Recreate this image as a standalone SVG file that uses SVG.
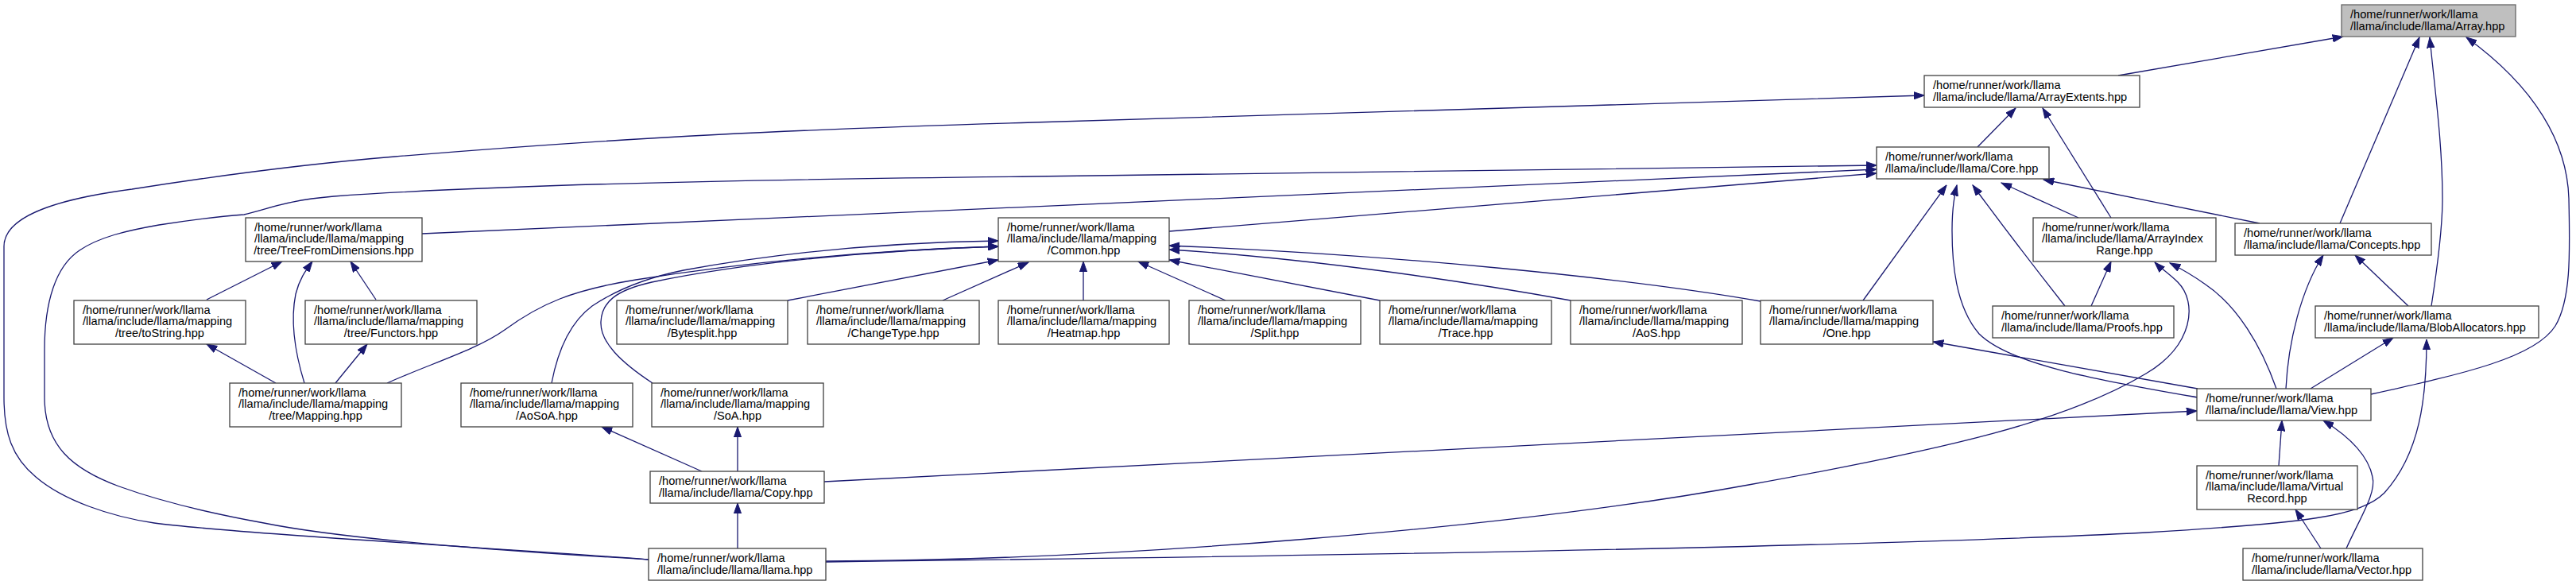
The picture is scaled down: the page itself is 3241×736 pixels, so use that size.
<svg xmlns="http://www.w3.org/2000/svg" width="3241" height="736" viewBox="0 0 3241 736">
<style>
.n rect{fill:#ffffff;stroke:#404040;stroke-width:1.3}
.root rect{fill:#bfbfbf;stroke:#666666;stroke-width:1.3}
text{font-family:"Liberation Sans",Arial,sans-serif;font-size:14.6px;fill:#000000}
.c{text-anchor:middle}
#edges path{fill:none;stroke:#191970;stroke-width:1.3;marker-end:url(#ah)}
</style>
<defs>
<marker id="ah" markerUnits="userSpaceOnUse" markerWidth="14" markerHeight="10" refX="13.3" refY="5" orient="auto" viewBox="0 0 14 10">
<path d="M0,0.3 L13.3,5 L0,9.7 z" fill="#191970" stroke="#191970" stroke-width="1"/>
</marker>
</defs>
<rect width="3241" height="736" fill="#ffffff"/>
<g id="edges">
<path d="M2665,95 L2948,46"/>
<path d="M2944,281 L3044,47"/>
<path d="M3059,385 C3066,340 3073,290 3073,250 C3073,180 3063,110 3057,47"/>
<path d="M2983,496 C3100,470 3190,450 3215,410 C3236,375 3233,310 3232,250 C3230,180 3190,110 3103,47"/>
<path d="M2488,185 L2536,136"/>
<path d="M2656,274 L2570,136"/>
<path d="M816,704 C700,694 300,672 194,658 C140,650 80,630 45,600 C15,575 5,545 5,500 L5,310 C5,275 60,252 166,238 C280,220 400,205 497,197 C800,172 1000,163 1300,154 C1800,140 2200,124 2421,120"/>
<path d="M816,704 C700,697 450,682 332,658 C260,645 200,630 150,612 C90,590 56,560 56,500 L56,440 C56,380 70,335 100,315 C125,298 160,290 200,283 C250,275 280,272 307,270 C340,262 360,252 420,247 C600,234 900,226 1300,222 C1800,215 2100,210 2361,208"/>
<path d="M531,294 L2361,213"/>
<path d="M1471,291 L2361,218"/>
<path d="M2615,274 L2518,230"/>
<path d="M2843,281 L2571,226"/>
<path d="M2598,385 Q2535,305 2482,233"/>
<path d="M2765,500 C2650,480 2530,460 2490,420 C2460,385 2456,330 2456,290 C2456,265 2459,245 2462,233"/>
<path d="M2344,378 L2449,233"/>
<path d="M260,377 L355,329"/>
<path d="M383,482 C370,440 366,400 372,370 C377,350 385,340 393,329"/>
<path d="M473,377 L441,329"/>
<path d="M347,482 L260,433"/>
<path d="M422,482 L462,433"/>
<path d="M487,482 C540,458 600,440 635,415 C680,382 720,365 800,352 C950,328 1100,315 1256,310"/>
<path d="M694,482 C702,440 718,405 745,385 C775,365 810,350 860,340 C980,318 1120,305 1256,303"/>
<path d="M821,482 C780,455 755,430 756,405 C757,380 775,365 820,355 C940,330 1100,315 1256,310"/>
<path d="M991,378 L1256,327"/>
<path d="M1186,378 L1294,330"/>
<path d="M1363,378 L1363,329"/>
<path d="M1542,378 L1432,329"/>
<path d="M1736,378 L1471,327"/>
<path d="M1976,378 C1850,355 1650,325 1471,314"/>
<path d="M2215,379 C2050,350 1750,320 1471,309"/>
<path d="M2765,489 L2432,430"/>
<path d="M2864,489 C2845,435 2815,385 2775,358 C2757,345 2742,337 2730,331"/>
<path d="M1039,706 C1400,705 1900,665 2200,610 C2450,565 2600,530 2700,470 C2760,435 2765,380 2740,355 C2730,345 2718,337 2711,330"/>
<path d="M1039,707 C1600,700 2300,690 2700,670 C2900,658 2970,650 3000,620 C3045,570 3053,500 3053,427"/>
<path d="M1037,606 L2764,517"/>
<path d="M883,593 L757,537"/>
<path d="M928,593 L928,537"/>
<path d="M928,690 L928,633"/>
<path d="M2876,489 C2879,430 2895,365 2923,321"/>
<path d="M2907,489 L3011,425"/>
<path d="M3030,385 L2963,321"/>
<path d="M2867,586 L2871,529"/>
<path d="M2952,690 C2970,650 2990,620 2985,600 C2980,575 2960,552 2923,529"/>
<path d="M2920,690 L2888,641"/>
<path d="M2631,385 L2656,329"/>
</g>
<g id="node-array" class="root"><rect x="2946" y="6" width="219" height="40"/><text x="2957" y="23">/home/runner/work/llama</text><text x="2957" y="38">/llama/include/llama/Array.hpp</text></g>
<g id="node-arrayextents" class="n"><rect x="2421" y="95" width="271" height="40"/><text x="2432" y="112">/home/runner/work/llama</text><text x="2432" y="127">/llama/include/llama/ArrayExtents.hpp</text></g>
<g id="node-core" class="n"><rect x="2361" y="185" width="217" height="40"/><text x="2372" y="202">/home/runner/work/llama</text><text x="2372" y="217">/llama/include/llama/Core.hpp</text></g>
<g id="node-treefromdimensions" class="n"><rect x="309" y="274" width="222" height="55"/><text x="320" y="290.5">/home/runner/work/llama</text><text x="320" y="305">/llama/include/llama/mapping</text><text class="c" x="420" y="319.5">/tree/TreeFromDimensions.hpp</text></g>
<g id="node-common" class="n"><rect x="1256" y="274" width="215" height="55"/><text x="1267" y="290.5">/home/runner/work/llama</text><text x="1267" y="305">/llama/include/llama/mapping</text><text class="c" x="1363.5" y="319.5">/Common.hpp</text></g>
<g id="node-arrayindexrange" class="n"><rect x="2558" y="274" width="230" height="55"/><text x="2569" y="290.5">/home/runner/work/llama</text><text x="2569" y="305">/llama/include/llama/ArrayIndex</text><text class="c" x="2673" y="319.5">Range.hpp</text></g>
<g id="node-concepts" class="n"><rect x="2812" y="281" width="247" height="40"/><text x="2823" y="298">/home/runner/work/llama</text><text x="2823" y="313">/llama/include/llama/Concepts.hpp</text></g>
<g id="node-tostring" class="n"><rect x="93" y="378" width="216" height="55"/><text x="104" y="394.5">/home/runner/work/llama</text><text x="104" y="409">/llama/include/llama/mapping</text><text class="c" x="201" y="423.5">/tree/toString.hpp</text></g>
<g id="node-functors" class="n"><rect x="384" y="378" width="216" height="55"/><text x="395" y="394.5">/home/runner/work/llama</text><text x="395" y="409">/llama/include/llama/mapping</text><text class="c" x="492" y="423.5">/tree/Functors.hpp</text></g>
<g id="node-bytesplit" class="n"><rect x="776" y="378" width="215" height="55"/><text x="787" y="394.5">/home/runner/work/llama</text><text x="787" y="409">/llama/include/llama/mapping</text><text class="c" x="883.5" y="423.5">/Bytesplit.hpp</text></g>
<g id="node-changetype" class="n"><rect x="1016" y="378" width="216" height="55"/><text x="1027" y="394.5">/home/runner/work/llama</text><text x="1027" y="409">/llama/include/llama/mapping</text><text class="c" x="1124" y="423.5">/ChangeType.hpp</text></g>
<g id="node-heatmap" class="n"><rect x="1256" y="378" width="215" height="55"/><text x="1267" y="394.5">/home/runner/work/llama</text><text x="1267" y="409">/llama/include/llama/mapping</text><text class="c" x="1363.5" y="423.5">/Heatmap.hpp</text></g>
<g id="node-split" class="n"><rect x="1496" y="378" width="216" height="55"/><text x="1507" y="394.5">/home/runner/work/llama</text><text x="1507" y="409">/llama/include/llama/mapping</text><text class="c" x="1604" y="423.5">/Split.hpp</text></g>
<g id="node-trace" class="n"><rect x="1736" y="378" width="216" height="55"/><text x="1747" y="394.5">/home/runner/work/llama</text><text x="1747" y="409">/llama/include/llama/mapping</text><text class="c" x="1844" y="423.5">/Trace.hpp</text></g>
<g id="node-aos" class="n"><rect x="1976" y="378" width="216" height="55"/><text x="1987" y="394.5">/home/runner/work/llama</text><text x="1987" y="409">/llama/include/llama/mapping</text><text class="c" x="2084" y="423.5">/AoS.hpp</text></g>
<g id="node-one" class="n"><rect x="2215" y="378" width="217" height="55"/><text x="2226" y="394.5">/home/runner/work/llama</text><text x="2226" y="409">/llama/include/llama/mapping</text><text class="c" x="2323.5" y="423.5">/One.hpp</text></g>
<g id="node-proofs" class="n"><rect x="2507" y="385" width="228" height="40"/><text x="2518" y="402">/home/runner/work/llama</text><text x="2518" y="417">/llama/include/llama/Proofs.hpp</text></g>
<g id="node-bloballocators" class="n"><rect x="2913" y="385" width="281" height="40"/><text x="2924" y="402">/home/runner/work/llama</text><text x="2924" y="417">/llama/include/llama/BlobAllocators.hpp</text></g>
<g id="node-mapping" class="n"><rect x="289" y="482" width="216" height="55"/><text x="300" y="498.5">/home/runner/work/llama</text><text x="300" y="513">/llama/include/llama/mapping</text><text class="c" x="397" y="527.5">/tree/Mapping.hpp</text></g>
<g id="node-aosoa" class="n"><rect x="580" y="482" width="216" height="55"/><text x="591" y="498.5">/home/runner/work/llama</text><text x="591" y="513">/llama/include/llama/mapping</text><text class="c" x="688" y="527.5">/AoSoA.hpp</text></g>
<g id="node-soa" class="n"><rect x="820" y="482" width="216" height="55"/><text x="831" y="498.5">/home/runner/work/llama</text><text x="831" y="513">/llama/include/llama/mapping</text><text class="c" x="928" y="527.5">/SoA.hpp</text></g>
<g id="node-view" class="n"><rect x="2764" y="489" width="219" height="40"/><text x="2775" y="506">/home/runner/work/llama</text><text x="2775" y="521">/llama/include/llama/View.hpp</text></g>
<g id="node-copy" class="n"><rect x="818" y="593" width="219" height="40"/><text x="829" y="610">/home/runner/work/llama</text><text x="829" y="625">/llama/include/llama/Copy.hpp</text></g>
<g id="node-virtualrecord" class="n"><rect x="2764" y="586" width="202" height="55"/><text x="2775" y="602.5">/home/runner/work/llama</text><text x="2775" y="617">/llama/include/llama/Virtual</text><text class="c" x="2865" y="631.5">Record.hpp</text></g>
<g id="node-llama" class="n"><rect x="816" y="690" width="223" height="40"/><text x="827" y="707">/home/runner/work/llama</text><text x="827" y="722">/llama/include/llama/llama.hpp</text></g>
<g id="node-vector" class="n"><rect x="2822" y="690" width="226" height="40"/><text x="2833" y="707">/home/runner/work/llama</text><text x="2833" y="722">/llama/include/llama/Vector.hpp</text></g>
</svg>
